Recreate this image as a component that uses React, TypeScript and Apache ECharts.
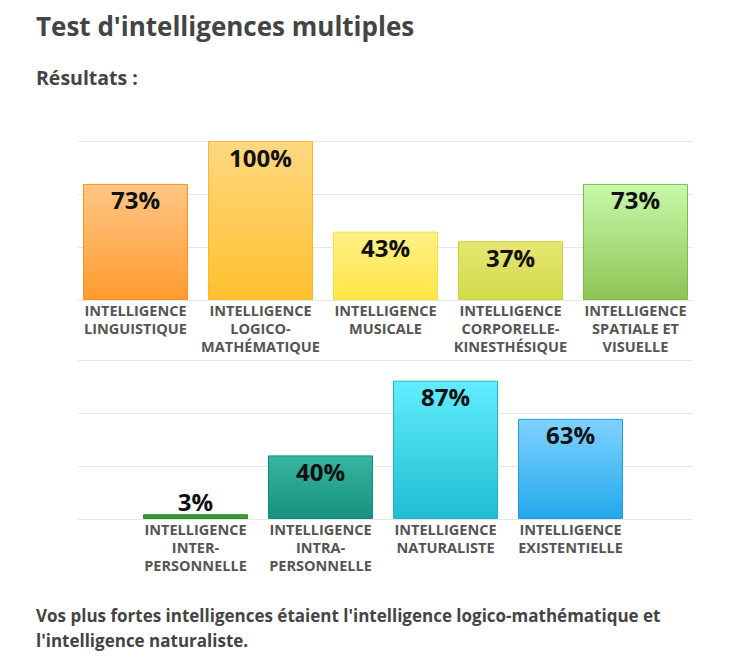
import React, { useEffect, useRef } from "react";
import * as echarts from "echarts";

const TITLE = "Test d'intelligences multiples";
const SUBTITLE = "Résultats :";
const CONCLUSION_1 = "Vos plus fortes intelligences étaient l'intelligence logico-mathématique et";
const CONCLUSION_2 = "l'intelligence naturaliste.";

const topCategories = [
  "INTELLIGENCE\nLINGUISTIQUE",
  "INTELLIGENCE\nLOGICO-\nMATHÉMATIQUE",
  "INTELLIGENCE\nMUSICALE",
  "INTELLIGENCE\nCORPORELLE-\nKINESTHÉSIQUE",
  "INTELLIGENCE\nSPATIALE ET\nVISUELLE",
];
const topValues = [73, 100, 43, 37, 73];

const bottomCategories = [
  "INTELLIGENCE\nINTER-\nPERSONNELLE",
  "INTELLIGENCE\nINTRA-\nPERSONNELLE",
  "INTELLIGENCE\nNATURALISTE",
  "INTELLIGENCE\nEXISTENTIELLE",
];
const bottomValues = [3, 40, 87, 63];

// [top colour, bottom colour, border colour]
const topColors = [
  ["#FFC685", "#FF9A2E", "#F7941D"],
  ["#FDD880", "#FFC02E", "#FBB829"],
  ["#FFF187", "#FFE545", "#F6E03C"],
  ["#E6E670", "#D3DA4C", "#C8D343"],
  ["#C8F8AA", "#8CC455", "#7DBB45"],
];
const bottomColors = [
  ["#3A9A33", "#3A9A33", "#2B8A2B"],
  ["#37B5A0", "#16917F", "#0E8C7A"],
  ["#60EEFF", "#20BCD0", "#1DB5CB"],
  ["#80D2FF", "#22A8EC", "#1E9FDD"],
];

const FONT = "'Open Sans', 'Noto Sans', sans-serif";

function grad(c: string[]) {
  return new echarts.graphic.LinearGradient(0, 0, 0, 1, [
    { offset: 0, color: c[0] },
    { offset: 1, color: c[1] },
  ]);
}

function barData(values: number[], colors: string[][]) {
  return values.map((v, i) => {
    const d: any = {
      value: v,
      itemStyle: { color: grad(colors[i]), borderColor: colors[i][2], borderWidth: 1 },
    };
    if (v < 10) {
      d.label = { position: "top", distance: 1 };
    }
    return d;
  });
}

export default function App() {
  const ref = useRef<HTMLDivElement>(null);
  useEffect(() => {
    if (!ref.current) return;
    const chart = echarts.init(ref.current, null, { renderer: "svg" });
    const lineGrid = (top: number) => ({ left: 78, width: 615, top, height: 159 });
    const axisLabel = {
      color: "#555",
      fontFamily: FONT,
      fontWeight: "bold",
      fontSize: 14.5,
      lineHeight: 17.7,
      margin: 2,
      interval: 0,
    };
    const lineY = (gi: number) => ({
      gridIndex: gi,
      type: "value",
      min: 0,
      max: 3,
      interval: 1,
      axisLabel: { show: false },
      axisLine: { show: false },
      axisTick: { show: false },
      splitLine: { show: true, lineStyle: { color: "#e6e6e6", width: 1 } },
    });
    const hiddenX = (gi: number) => ({
      gridIndex: gi,
      type: "value",
      min: 0,
      max: 1,
      show: false,
      splitLine: { show: false },
    });
    const barY = (gi: number) => ({
      gridIndex: gi,
      type: "value",
      min: 0,
      max: 100,
      show: false,
      splitLine: { show: false },
    });
    const catX = (gi: number, data: string[]) => ({
      gridIndex: gi,
      type: "category",
      data,
      axisLine: { show: false },
      axisTick: { show: false },
      axisLabel,
    });
    const label = {
      show: true,
      position: "insideTop",
      distance: 4,
      formatter: "{c}%",
      color: "#111",
      fontFamily: FONT,
      fontWeight: "bold",
      fontSize: 24,
    };
    chart.setOption({
      animation: false,
      backgroundColor: "#fff",
      graphic: [
        {
          type: "text",
          left: 36,
          top: 13,
          style: { text: TITLE, fill: "#444", font: `bold 26px ${FONT}` },
        },
        {
          type: "text",
          left: 36,
          top: 67,
          style: { text: SUBTITLE, fill: "#444", font: `bold 19.5px ${FONT}` },
        },
        {
          type: "text",
          left: 36,
          top: 603,
          style: {
            text: CONCLUSION_1 + "\n" + CONCLUSION_2,
            fill: "#444",
            font: `bold 17px ${FONT}`,
            lineHeight: 25,
          },
        },
      ],
      grid: [
        lineGrid(141),
        { left: 73, width: 625, top: 141, height: 159 },
        lineGrid(360),
        { left: 133, width: 500, top: 360, height: 159 },
      ],
      xAxis: [hiddenX(0), catX(1, topCategories), hiddenX(2), catX(3, bottomCategories)],
      yAxis: [lineY(0), barY(1), lineY(2), barY(3)],
      series: [
        {
          type: "bar",
          xAxisIndex: 1,
          yAxisIndex: 1,
          barWidth: 105,
          label,
          data: barData(topValues, topColors),
        },
        {
          type: "bar",
          xAxisIndex: 3,
          yAxisIndex: 3,
          barWidth: 105,
          label,
          data: barData(bottomValues, bottomColors),
        },
      ],
    });
    return () => chart.dispose();
  }, []);
  return (
    <div
      ref={ref}
      style={{ position: "absolute", left: 0, top: 0, width: 753, height: 659 }}
    />
  );
}
